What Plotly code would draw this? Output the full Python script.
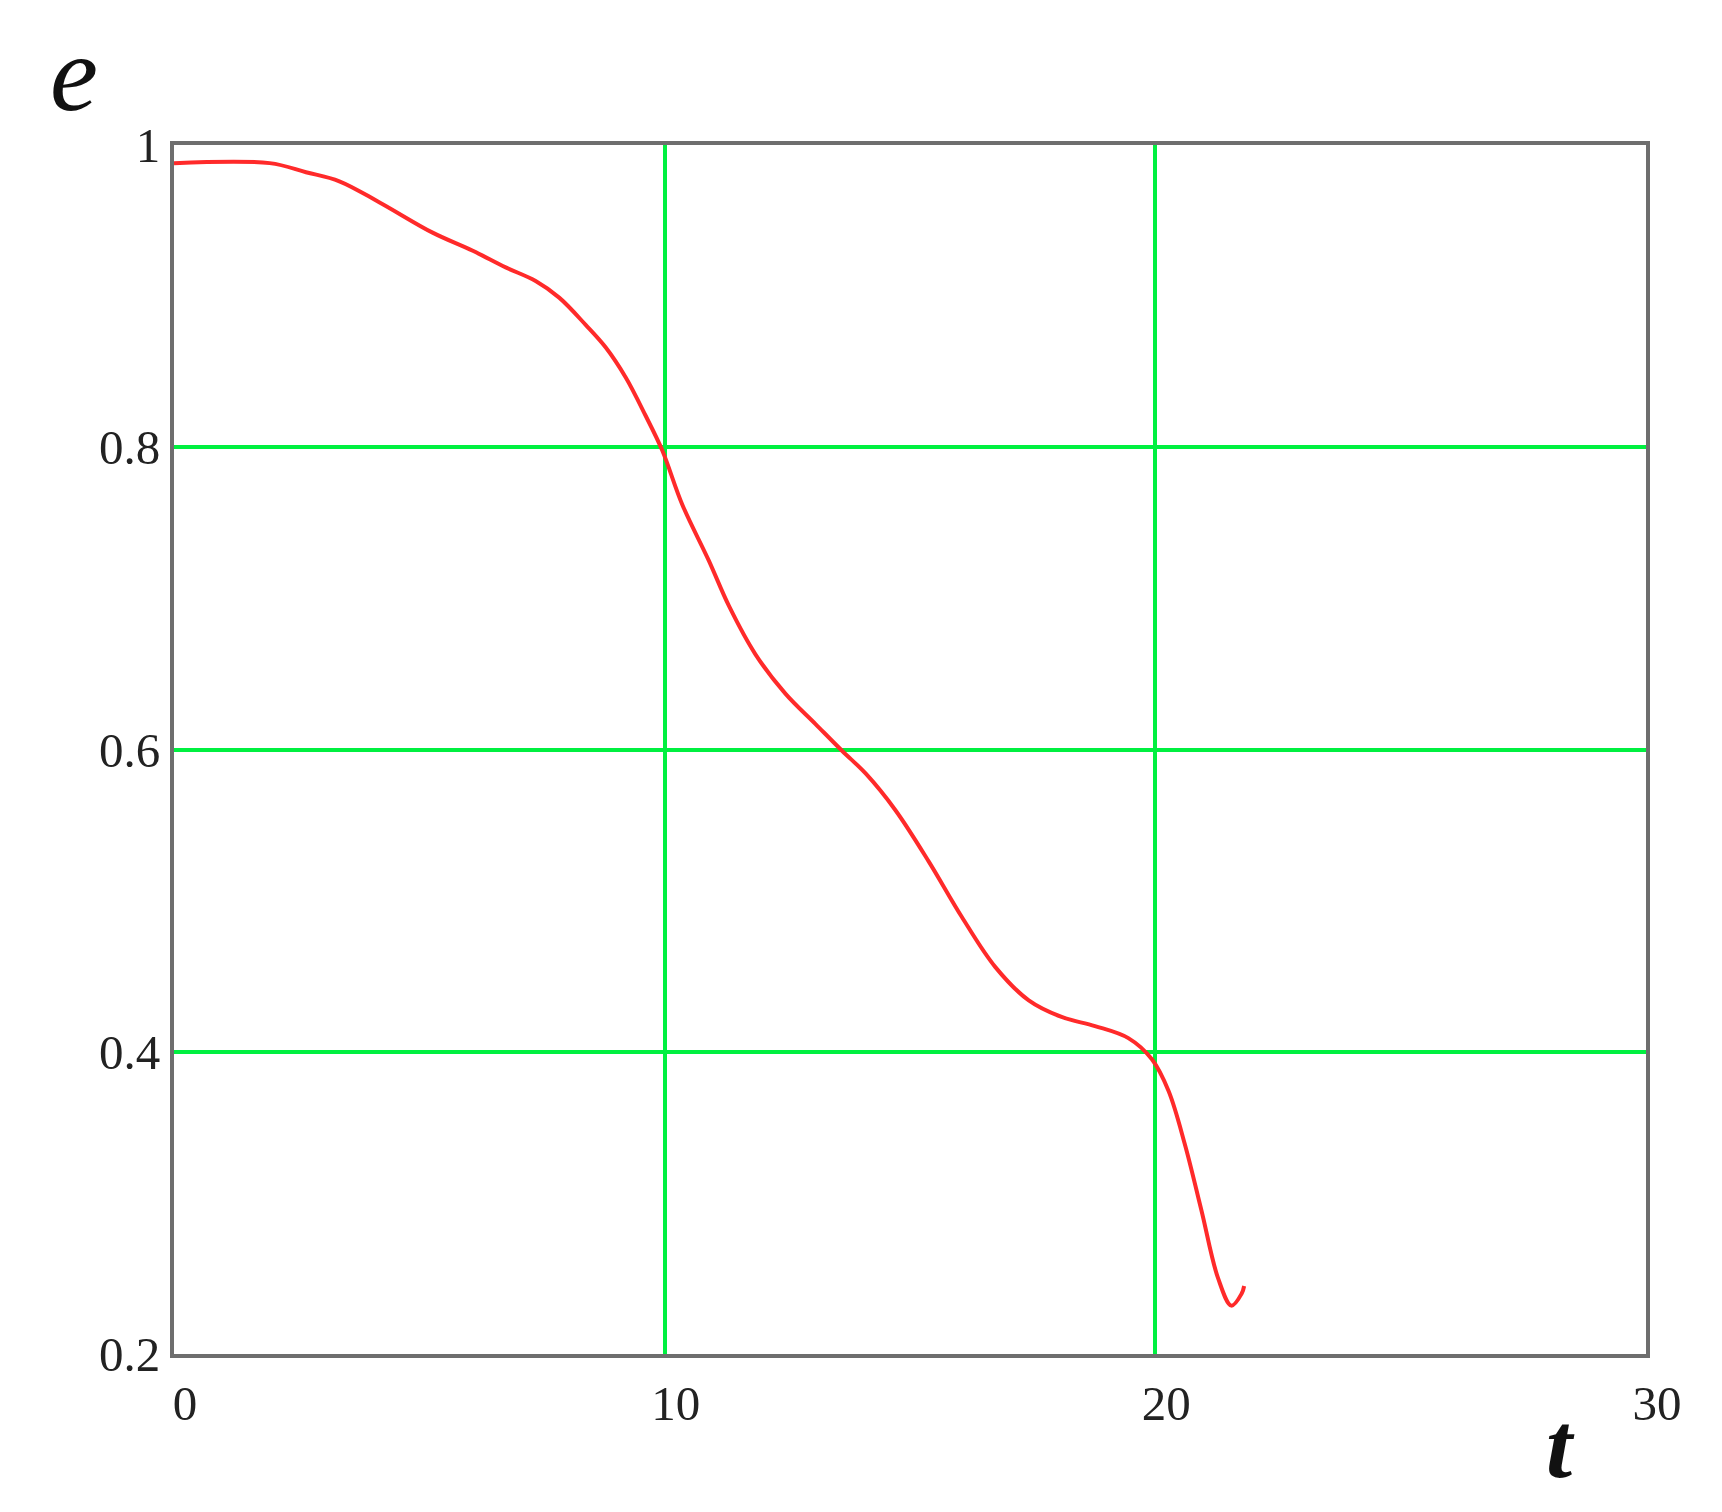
import plotly.graph_objects as go

t_vals = [0.0, 1.95, 2.69, 3.37, 4.19, 5.27, 6.09, 6.76, 7.37, 7.85, 8.39, 8.80, 9.21, 9.61,
          9.95, 10.36, 10.90, 11.31, 11.85, 12.46, 13.07, 13.62, 14.10, 14.70, 15.38,
          16.06, 16.74, 17.42, 18.09, 18.77, 19.45, 19.93, 20.27, 20.60, 20.94, 21.28, 21.55,
          21.76, 21.81]
e_vals = [0.988, 0.988, 0.982, 0.976, 0.962, 0.942, 0.930, 0.919, 0.910, 0.899, 0.881, 0.866,
          0.846, 0.821, 0.798, 0.762, 0.725, 0.695, 0.663, 0.637, 0.617, 0.599, 0.584,
          0.560, 0.526, 0.489, 0.456, 0.434, 0.423, 0.417, 0.409, 0.395, 0.374, 0.339, 0.295,
          0.250, 0.232, 0.240, 0.245]

x_ticks = [0, 10, 20, 30]
y_ticks = [0.2, 0.4, 0.6, 0.8, 1.0]
y_tick_text = ["0.2", "0.4", "0.6", "0.8", "1"]

fig = go.Figure()
fig.add_trace(go.Scatter(
    x=t_vals, y=e_vals, mode="lines",
    line=dict(color="#ff2a2a", width=4, shape="spline", smoothing=1.0),
    showlegend=False, hoverinfo="skip",
))

grid_color = "#00f040"
frame_color = "#6e6e6e"
tick_font = dict(family="Liberation Serif, Times New Roman, serif", size=49, color="#222222")

fig.update_xaxes(
    range=[0, 30], tickvals=x_ticks, ticktext=[str(v) for v in x_ticks],
    showgrid=True, gridcolor=grid_color, gridwidth=4,
    showline=True, linecolor=frame_color, linewidth=4, mirror=True,
    zeroline=False, ticks="", tickfont=tick_font,
    ticklabelshift=11, ticklabelstandoff=3,
)
fig.update_yaxes(
    range=[0.2, 1.0], tickvals=y_ticks, ticktext=y_tick_text,
    showgrid=True, gridcolor=grid_color, gridwidth=4,
    showline=True, linecolor=frame_color, linewidth=4, mirror=True,
    zeroline=False, ticks="", tickfont=tick_font,
    ticklabelstandoff=0,
)

fig.add_annotation(
    text="<i>e</i>", xref="paper", yref="paper", x=-0.068, y=1.059,
    showarrow=False, xanchor="center", yanchor="middle",
    font=dict(family="Liberation Serif, Times New Roman, serif", size=108, color="#111111"),
)
fig.add_annotation(
    text="<b><i>t</i></b>", xref="paper", yref="paper", x=0.942, y=-0.075,
    showarrow=False, xanchor="center", yanchor="middle",
    font=dict(family="Liberation Serif, Times New Roman, serif", size=94, color="#111111"),
)

fig.update_layout(
    width=1722, height=1512,
    margin=dict(l=166, r=84, t=137, b=166),
    paper_bgcolor="white", plot_bgcolor="white",
)

fig.write_html("out.html")
